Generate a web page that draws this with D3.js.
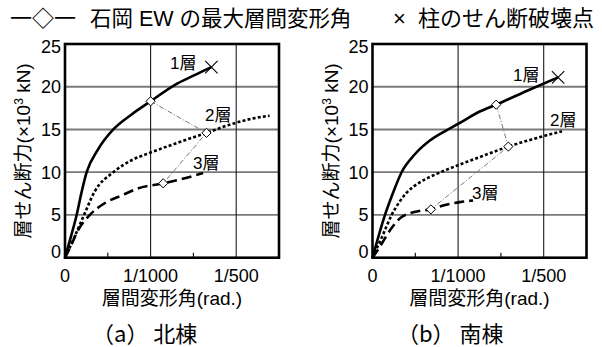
<!DOCTYPE html>
<html>
<head>
<meta charset="utf-8">
<script src="https://cdnjs.cloudflare.com/ajax/libs/d3/7.8.5/d3.min.js"></script>
<style>
  body { margin: 0; background: #fff; }
  svg text { font-family: "Liberation Sans", Arial, "Noto Sans CJK JP", sans-serif; fill: #000; }
</style>
</head>
<body>
<div id="chartContainer"></div>
<script>
// storey drift angle (rad) vs storey shear (x10^3 kN)
// (a) north building
var north1 = [[0,0],[0.00007,2.5],[0.000136,5],[0.00019,7.5],[0.000253,10],[0.000382,12.6],[0.000564,15],[0.00077,16.7],[0.001,18.3],[0.00128,20.2],[0.0015,21.3],[0.00171,22.3]];
var north2 = [[0,0],[0.00011,2.4],[0.000222,5],[0.00035,7.8],[0.000564,10],[0.000778,11.4],[0.001,12.3],[0.00133,13.5],[0.001653,14.6],[0.002,15.8],[0.0022,16.3],[0.00239,16.6]];
var north3 = [[0,0],[0.00006,1.2],[0.000152,3.2],[0.00029,5],[0.000467,6.4],[0.000665,7.3],[0.00085,8.1],[0.001147,8.7],[0.0014,9.3],[0.001614,9.9]];
var northMaxDrift = [[0.001,18.3],[0.001653,14.6],[0.001147,8.7]];   // 石岡 EW max drift, storeys 1-3
var northFailure = [0.00171,22.3];

// (b) south building
var south1 = [[0,0],[0.00007,2.5],[0.000146,5],[0.00024,7.6],[0.00034,10],[0.000495,12.1],[0.00067,13.7],[0.000865,14.9],[0.001008,15.7],[0.001253,17.1],[0.001445,17.9],[0.0018,19.5],[0.002168,21.1]];
var south2 = [[0,0],[0.00011,2.4],[0.000224,5],[0.00032,6.6],[0.000399,7.6],[0.000534,8.7],[0.00064,9.3],[0.000748,9.8],[0.00102,10.9],[0.001233,11.7],[0.001587,13.0],[0.0019,13.95],[0.002214,14.8]];
var south3 = [[0,0],[0.000087,1.3],[0.000204,3.2],[0.00032,4.6],[0.000437,5.2],[0.000573,5.5],[0.000682,5.65],[0.000825,6.1],[0.00102,6.5],[0.001175,6.7]];
var southMaxDrift = [[0.001445,17.9],[0.001587,13.0],[0.000682,5.65]];
var southFailure = [0.002168,21.1];

var storyNames = ["1層", "2層", "3層"];
var xTicks = [0, 0.001, 0.002];
var xTickLabels = ["0", "1/1000", "1/500"];
var xMinorTicks = [0.0005, 0.0015];
var yTicks = [0, 5, 10, 15, 20, 25];

var svg = d3.select("#chartContainer").append("svg")
  .attr("width", 602).attr("height", 347);

// legend row at the top
svg.append("text").attr("x", 10).attr("y", 26).style("font-size", "22px").text("一◇一");
svg.append("text").attr("x", 90).attr("y", 26).style("font-size", "21.5px").text("石岡 EW の最大層間変形角");
svg.append("text").attr("x", 393).attr("y", 26).style("font-size", "22px").text("×");
svg.append("text").attr("x", 418).attr("y", 26).style("font-size", "22px").text("柱のせん断破壊点");

var lineStyles = [
  { width: 2.6, dash: null },
  { width: 2.6, dash: "3,2.2" },
  { width: 2.6, dash: "10,5" }
];

function drawPanel(p) {
  var x = d3.scaleLinear().domain([0, 0.0025]).range([p.left, p.left + 214]);
  var y = d3.scaleLinear().domain([0, 25]).range([257.7, 44]);
  var g = svg.append("g");

  // grid
  g.selectAll(".hgrid").data(yTicks.slice(1, -1)).enter().append("line")
    .attr("x1", x(0)).attr("x2", x(0.0025))
    .attr("y1", d => y(d)).attr("y2", d => y(d))
    .attr("stroke", "#7a7a7a").attr("stroke-width", 1.8);
  g.selectAll(".vgrid").data(xTicks.slice(1)).enter().append("line")
    .attr("x1", d => x(d)).attr("x2", d => x(d))
    .attr("y1", y(0)).attr("y2", y(25))
    .attr("stroke", "#1a1a1a").attr("stroke-width", 1.1);
  g.selectAll(".minor").data(xMinorTicks).enter().append("line")
    .attr("x1", d => x(d)).attr("x2", d => x(d))
    .attr("y1", y(0)).attr("y2", y(0) - 5)
    .attr("stroke", "#000").attr("stroke-width", 1.1);

  // curves
  var line = d3.line().x(d => x(d[0])).y(d => y(d[1])).curve(d3.curveMonotoneX);
  p.series.forEach(function (s, i) {
    g.append("path").attr("d", line(s))
      .attr("fill", "none").attr("stroke", "#000")
      .attr("stroke-width", lineStyles[i].width)
      .attr("stroke-dasharray", lineStyles[i].dash);
  });

  // max drift connector
  g.append("path").attr("d", d3.line().x(d => x(d[0])).y(d => y(d[1]))(p.maxDrift))
    .attr("fill", "none").attr("stroke", "#777").attr("stroke-width", 1)
    .attr("stroke-dasharray", "5,2,1,2");
  g.selectAll(".dia").data(p.maxDrift).enter().append("path")
    .attr("d", function (d) {
      var cx = x(d[0]), cy = y(d[1]), r = 4.6;
      return "M" + cx + "," + (cy - r) + "L" + (cx + r) + "," + cy + "L" + cx + "," + (cy + r) + "L" + (cx - r) + "," + cy + "Z";
    })
    .attr("fill", "#fff").attr("stroke", "#000").attr("stroke-width", 1);

  // failure point
  var fx = x(p.failure[0]), fy = y(p.failure[1]), r = 6.2;
  g.append("path")
    .attr("d", "M" + (fx - r) + "," + (fy - r) + "L" + (fx + r) + "," + (fy + r) + "M" + (fx - r) + "," + (fy + r) + "L" + (fx + r) + "," + (fy - r))
    .attr("stroke", "#000").attr("stroke-width", 1.1);

  // frame
  g.append("rect").attr("x", x(0)).attr("y", y(25))
    .attr("width", x(0.0025) - x(0)).attr("height", y(0) - y(25))
    .attr("fill", "none").attr("stroke", "#000").attr("stroke-width", 2.6);

  // tick labels
  g.selectAll(".ylab").data(yTicks).enter().append("text")
    .attr("x", x(0) - 4).attr("y", d => y(d))
    .attr("dy", d => d === 0 ? "-0.0em" : d === 25 ? "0.5em" : "0.35em")
    .attr("text-anchor", "end").style("font-size", "18px").text(d => d);
  g.selectAll(".xlab").data(xTicks).enter().append("text")
    .attr("x", d => x(d)).attr("y", 282)
    .attr("text-anchor", "middle").style("font-size", "18px")
    .text((d, i) => xTickLabels[i]);

  // axis titles
  g.append("text").attr("x", (x(0) + x(0.0025)) / 2).attr("y", 305)
    .attr("text-anchor", "middle").style("font-size", "19px").text("層間変形角(rad.)");
  var yt = g.append("text")
    .attr("transform", "translate(" + (x(0) - 35) + "," + ((y(0) + y(25)) / 2) + ") rotate(-90)")
    .attr("text-anchor", "middle").style("font-size", "19px");
  yt.append("tspan").text("層せん断力(×10");
  yt.append("tspan").attr("dy", -7).style("font-size", "12px").text("3");
  yt.append("tspan").attr("dy", 7).text(" kN)");

  // storey labels
  p.labels.forEach(function (l, i) {
    g.append("text").attr("x", x(l[0])).attr("y", y(l[1]))
      .style("font-size", "17px").text(storyNames[i]);
  });

  // caption
  g.append("text").attr("x", p.captionX).attr("y", 342)
    .style("font-size", "22px").style("font-family", "Noto Sans CJK JP")
    .text(p.caption);
}

drawPanel({
  left: 65, series: [north1, north2, north3], maxDrift: northMaxDrift, failure: northFailure,
  labels: [[0.001227, 22.1], [0.001636, 16.0], [0.001495, 10.4]],
  caption: "（a） 北棟", captionX: 92
});
drawPanel({
  left: 372.5, series: [south1, south2, south3], maxDrift: southMaxDrift, failure: southFailure,
  labels: [[0.001641, 20.7], [0.002074, 15.4], [0.001162, 6.9]],
  caption: "（b） 南棟", captionX: 397
});
</script>
</body>
</html>
